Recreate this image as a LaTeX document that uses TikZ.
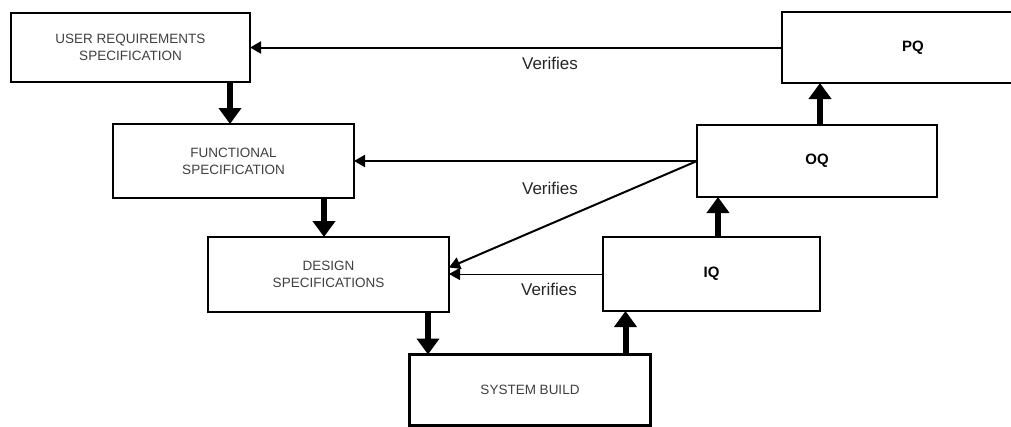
\documentclass[tikz,border=0pt]{standalone}
\usepackage{fontspec}
\setmainfont{Liberation Sans}
\usetikzlibrary{positioning, arrows.meta}

\begin{document}
\begin{tikzpicture}
    [
        x=1pt, y=-1pt,
        spec_box/.style={rectangle, draw=black, line width=2.6pt, fill=white, inner sep=0pt, outer sep=0pt, align=center, text=black!75, font=\fontsize{13.5}{17}\selectfont},
        qual_box/.style={spec_box, text=black, font=\fontsize{15}{18}\selectfont\bfseries},
        flow_arrow/.style={-{Triangle[length=16pt, width=22pt]}, line width=6pt, color=black},
        verify_arrow/.style={-{Triangle[length=11pt, width=12pt]}, line width=2pt, color=black},
        verify_text/.style={font=\fontsize{17}{20}\selectfont, text=black!85},
    ]
        \useasboundingbox (0,0) rectangle (1011,426) ;
        \node[spec_box, minimum width=239pt, minimum height=69pt] (urs) at (130.5,47.5) {USER REQUIREMENTS\\SPECIFICATION} ;
        \node[spec_box, minimum width=241pt, minimum height=74pt] (fs) at (233.5,161) {FUNCTIONAL\\SPECIFICATION} ;
        \node[spec_box, minimum width=241pt, minimum height=75pt] (ds) at (328.5,274.5) {DESIGN\\SPECIFICATIONS} ;
        \node[spec_box, minimum width=241pt, minimum height=71pt] (sb) at (530,390) {SYSTEM BUILD} ;
        \node[qual_box, minimum width=217pt, minimum height=74pt] (iq) at (711.5,274) {IQ} ;
        \node[qual_box, minimum width=240pt, minimum height=72pt] (oq) at (817,161) {OQ} ;
        \node[qual_box, minimum width=262pt, minimum height=71pt] (pq) at (913,47.5) {PQ} ;
        \node[verify_text] (ver_pq) at (550,63) {Verifies} ;
        \node[verify_text] (ver_oq) at (550,188) {Verifies} ;
        \node[verify_text] (ver_iq) at (549,289) {Verifies} ;
        \draw[flow_arrow] ([xshift=-20pt]urs.south east) -- ([xshift=-20pt]urs.south east |- fs.north) ;
        \draw[flow_arrow] ([xshift=-30pt]fs.south east) -- ([xshift=-30pt]fs.south east |- ds.north) ;
        \draw[flow_arrow] ([xshift=-21pt]ds.south east) -- ([xshift=-21pt]ds.south east |- sb.north) ;
        \draw[flow_arrow] ([xshift=-25pt]sb.north east) -- ([xshift=-25pt]sb.north east |- iq.south) ;
        \draw[flow_arrow] ([xshift=115pt]iq.north west) -- ([xshift=115pt]iq.north west |- oq.south) ;
        \draw[flow_arrow] ([xshift=123pt]oq.north west) -- ([xshift=123pt]oq.north west |- pq.south) ;
        \draw[verify_arrow] (pq.west) -- (pq.west -| urs.east) ;
        \draw[verify_arrow] (oq.west) -- (oq.west -| fs.east) ;
        \draw[verify_arrow] (oq.west) -- ([yshift=7pt]ds.east) ;
        \draw[verify_arrow, line width=1pt] (iq.west) -- (iq.west -| ds.east) ;
    \end{tikzpicture}
\end{document}
